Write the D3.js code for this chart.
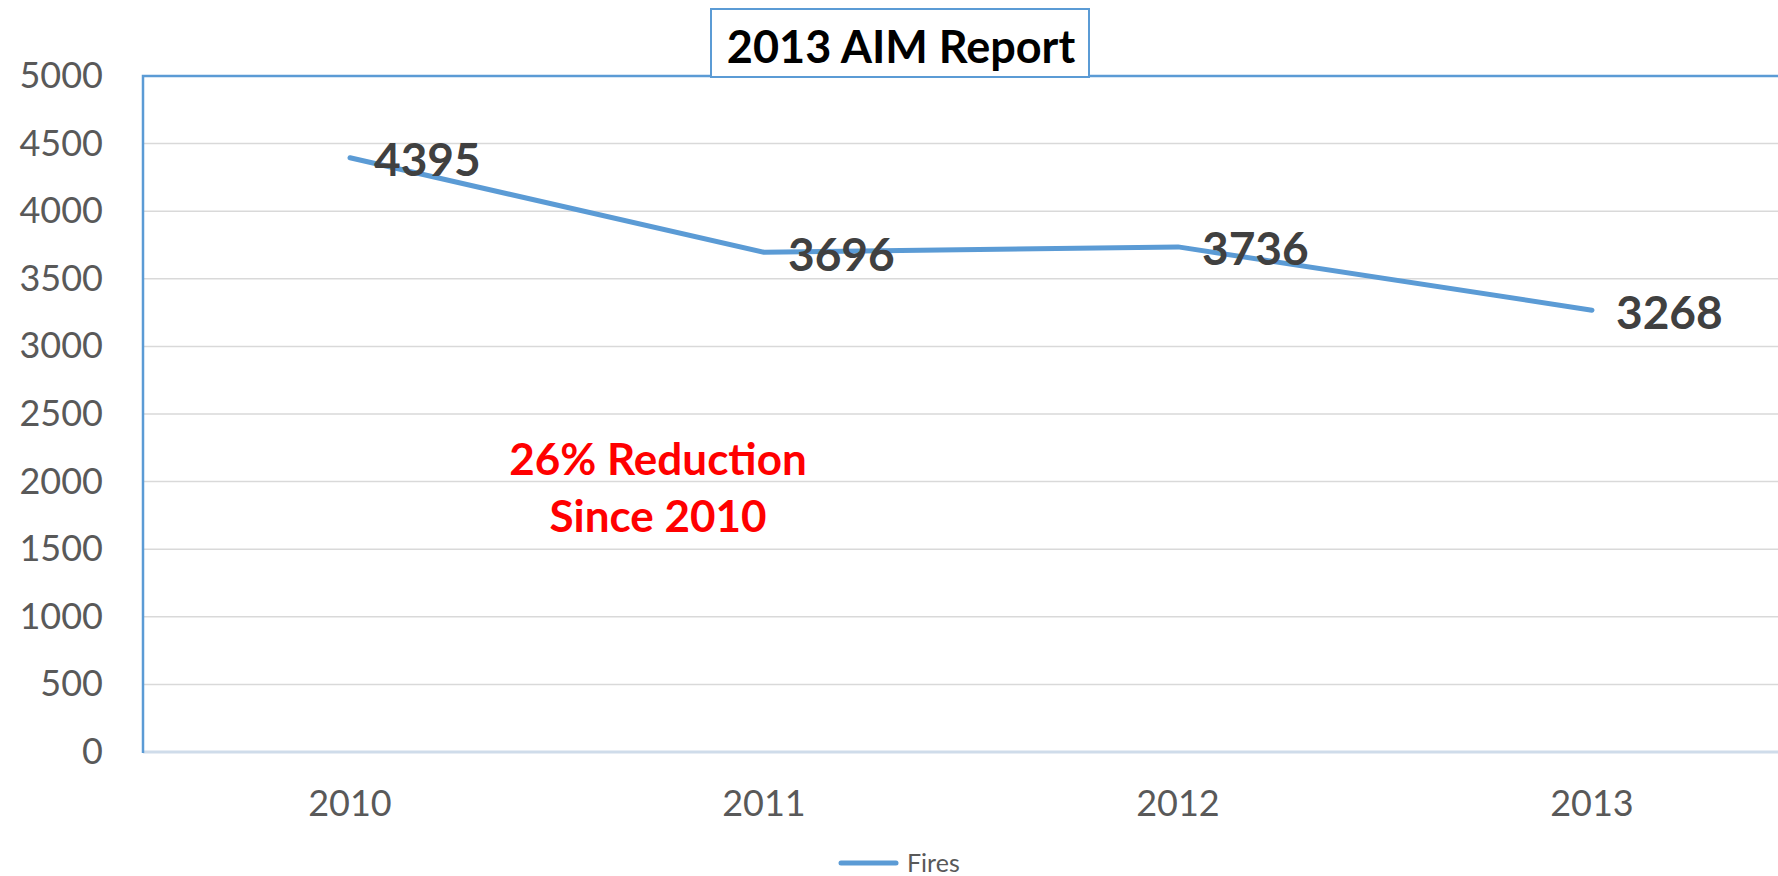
<!DOCTYPE html>
<html>
<head>
<meta charset="utf-8">
<script src="https://cdn.jsdelivr.net/npm/d3@7"></script>
<style>
  html, body { margin: 0; padding: 0; background: #fff; overflow: hidden; }
  svg { display: block; font-family: Lato, "Open Sans", sans-serif; }
</style>
</head>
<body>
<svg id="chart" width="1778" height="876"></svg>
<script>
// chart data
const years = ['2010', '2011', '2012', '2013'];
const fires = [4395, 3696, 3736, 3268];
const yTicks = [0, 500, 1000, 1500, 2000, 2500, 3000, 3500, 4000, 4500, 5000];
const titleText = '2013 AIM Report';
const noteLines = ['26% Reduction', 'Since 2010'];
const seriesName = 'Fires';

const svg = d3.select('#chart');
const margin = {left: 143, top: 76, bottom: 124};
const band = 414;
const plotW = band * years.length;
const plotBottom = 876 - margin.bottom;

const x = d3.scaleBand().domain(years).range([margin.left, margin.left + plotW]).padding(0);
const y = d3.scaleLinear().domain([0, 5000]).range([plotBottom, margin.top]);
const cx = function(d) { return x(d) + x.bandwidth() / 2; };

// gridlines
svg.append('g')
    .selectAll('line')
    .data(yTicks.filter(function(t) { return t > 0 && t < 5000; }))
    .enter().append('line')
    .attr('x1', margin.left).attr('x2', margin.left + plotW)
    .attr('y1', function(d) { return y(d); }).attr('y2', function(d) { return y(d); })
    .attr('stroke', '#d9d9d9').attr('stroke-width', 1.5);

// y axis labels
const yAxis = svg.append('g')
    .attr('transform', 'translate(' + margin.left + ',0)')
    .call(d3.axisLeft(y).tickValues(yTicks).tickFormat(d3.format('d')).tickSize(0).tickPadding(40));
yAxis.select('.domain').remove();
yAxis.selectAll('text')
    .attr('font-family', 'Lato, "Open Sans", sans-serif')
    .attr('font-size', 36).attr('fill', '#595959');

// x axis labels
const xAxis = svg.append('g')
    .attr('transform', 'translate(0,' + plotBottom + ')')
    .call(d3.axisBottom(x).tickSize(0).tickPadding(38));
xAxis.select('.domain').remove();
xAxis.selectAll('text')
    .attr('font-family', 'Lato, "Open Sans", sans-serif')
    .attr('font-size', 36).attr('fill', '#595959');

// plot border: top + left in blue, bottom axis in pale blue
svg.append('line')
    .attr('x1', margin.left).attr('x2', margin.left + plotW)
    .attr('y1', plotBottom).attr('y2', plotBottom)
    .attr('stroke', '#cfdcea').attr('stroke-width', 3);
svg.append('path')
    .attr('d', 'M' + margin.left + ',' + (plotBottom + 1) + 'V' + margin.top + 'H' + (margin.left + plotW))
    .attr('fill', 'none').attr('stroke', '#5b9bd5').attr('stroke-width', 2.5);

// series line
const line = d3.line()
    .x(function(d, i) { return cx(years[i]); })
    .y(function(d) { return y(d); });
svg.append('path')
    .datum(fires)
    .attr('d', line)
    .attr('fill', 'none')
    .attr('stroke', '#5b9bd5')
    .attr('stroke-width', 5)
    .attr('stroke-linecap', 'round')
    .attr('stroke-linejoin', 'round');

// data labels
svg.append('g')
    .selectAll('text')
    .data(fires)
    .enter().append('text')
    .attr('x', function(d, i) { return cx(years[i]) + 24; })
    .attr('y', function(d) { return y(d) + 2; })
    .attr('dy', '0.36em')
    .attr('font-size', 46).attr('font-weight', 'bold').attr('fill', '#404040')
    .text(function(d) { return d; });

// annotation
svg.append('g')
    .selectAll('text')
    .data(noteLines)
    .enter().append('text')
    .attr('x', 658)
    .attr('y', function(d, i) { return 459 + i * 57; })
    .attr('dy', '0.36em')
    .attr('text-anchor', 'middle')
    .attr('font-size', 44).attr('font-weight', 'bold').attr('fill', '#ff0000')
    .text(function(d) { return d; });

// title box
svg.append('rect')
    .attr('x', 711).attr('y', 9).attr('width', 378).attr('height', 68)
    .attr('fill', '#fff').attr('stroke', '#5b9bd5').attr('stroke-width', 2);
svg.append('text')
    .attr('x', 901).attr('y', 47).attr('dy', '0.36em')
    .attr('text-anchor', 'middle')
    .attr('font-size', 45).attr('font-weight', 'bold').attr('fill', '#000')
    .text(titleText);

// legend
const legend = svg.append('g').attr('transform', 'translate(841,863)');
legend.append('line')
    .attr('x1', 0).attr('x2', 55).attr('y1', 0).attr('y2', 0)
    .attr('stroke', '#5b9bd5').attr('stroke-width', 5).attr('stroke-linecap', 'round');
legend.append('text')
    .attr('x', 66).attr('y', 0).attr('dy', '0.36em')
    .attr('font-size', 25).attr('fill', '#595959')
    .text(seriesName);
</script>
</body>
</html>
